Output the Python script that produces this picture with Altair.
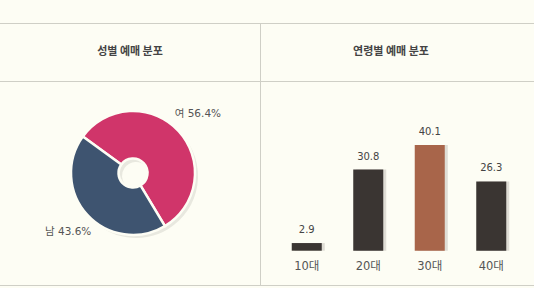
import altair as alt
import pandas as pd

# ---- data ----
genders = ["여", "남"]
gender_pct = [56.4, 43.6]
gender_colors = ["#d0356a", "#3e5470"]

ages = ["10대", "20대", "30대", "40대"]
age_pct = [2.9, 30.8, 40.1, 26.3]
age_colors = ["#3a3532", "#3a3532", "#a8654a", "#3a3532"]

titles = ["성별 예매 분포", "연령별 예매 분포"]

BG = "#fdfdf4"
LINE = "#cfcfc6"
FONT = "DejaVu Sans, Noto Sans CJK KR, sans-serif"
KFONT = "Noto Sans CJK KR, sans-serif"

gdf = pd.DataFrame({"g": genders, "pct": gender_pct, "ord": [0, 1]})
gdf["label"] = [f"{g} {p:.1f}%" for g, p in zip(genders, gender_pct)]
adf = pd.DataFrame({"age": ages, "pct": age_pct, "c": age_colors})

start = 5.34
theta_scale = alt.Scale(range=[start, start + 6.2832])
CX, CY = 133, 173

pie_base = alt.Chart(gdf).encode(
    theta=alt.Theta("pct:Q", stack=True, scale=theta_scale),
    order=alt.Order("ord:Q"),
)

pie_shadow = pie_base.mark_arc(
    innerRadius=14, outerRadius=62, color="#8a8a80", opacity=0.18
).encode(x=alt.value(CX + 3), y=alt.value(CY + 3))

pie = pie_base.mark_arc(
    innerRadius=14.5, outerRadius=62, stroke=BG, strokeWidth=2.5
).encode(
    x=alt.value(CX), y=alt.value(CY),
    color=alt.Color("g:N", scale=alt.Scale(domain=genders, range=gender_colors), legend=None),
)

pie_text = pie_base.mark_text(
    radius=88, font=FONT, fontSize=10.5, color="#555555"
).encode(x=alt.value(CX), y=alt.value(CY), text="label:N")

xscale = alt.Scale(domain=ages, range=[276, 522], paddingInner=0.512, paddingOuter=0.256)
yscale = alt.Scale(domain=[0, 40.1], range=[250.7, 145], nice=False, zero=True)

bar_base = alt.Chart(adf).encode(
    x=alt.X("age:N", scale=xscale, axis=None),
)

bar_shadow = bar_base.mark_bar(color="#9a968e", opacity=0.3, xOffset=3).encode(
    y=alt.Y("pct:Q", scale=yscale, axis=None), y2=alt.Y2Datum(0)
)
bars = bar_base.mark_bar().encode(
    y=alt.Y("pct:Q", scale=yscale, axis=None),
    y2=alt.Y2Datum(0),
    color=alt.Color("c:N", scale=None),
)
bar_vals = bar_base.mark_text(
    dy=-13, font=FONT, fontSize=10, color="#444444", baseline="middle"
).encode(y=alt.Y("pct:Q", scale=yscale, axis=None), text=alt.Text("pct:Q", format=".1f"))
bar_cats = bar_base.mark_text(
    font=FONT, fontSize=11.5, color="#555555", baseline="middle"
).encode(y=alt.value(267), text="age:N")

# frame lines and headers
frame = pd.DataFrame({"k": [0]})
fr = alt.Chart(frame)
h1 = fr.mark_rule(color=LINE, strokeWidth=1).encode(x=alt.value(0), x2=alt.value(534), y=alt.value(23.5))
h2 = fr.mark_rule(color=LINE, strokeWidth=1).encode(x=alt.value(0), x2=alt.value(534), y=alt.value(81.5))
h3 = fr.mark_rule(color=LINE, strokeWidth=1).encode(x=alt.value(0), x2=alt.value(534), y=alt.value(285.5))
v1 = fr.mark_rule(color=LINE, strokeWidth=1).encode(x=alt.value(260.5), y=alt.value(23), y2=alt.value(285))
t1 = fr.mark_text(font=KFONT, fontSize=11, fontWeight="bold", color="#444444", baseline="middle").encode(
    x=alt.value(130), y=alt.value(52), text=alt.value(titles[0]))
t2 = fr.mark_text(font=KFONT, fontSize=11, fontWeight="bold", color="#444444", baseline="middle").encode(
    x=alt.value(391), y=alt.value(52), text=alt.value(titles[1]))

chart = alt.layer(
    h1, h2, h3, v1, t1, t2,
    pie_shadow, pie, pie_text,
    bar_shadow, bars, bar_vals, bar_cats,
).properties(
    width=534, height=288, autosize=alt.AutoSizeParams(type="none"), padding=0, background=BG
).configure_view(stroke=None)

chart.save("out.html", embed_options={"renderer": "svg", "actions": False})
